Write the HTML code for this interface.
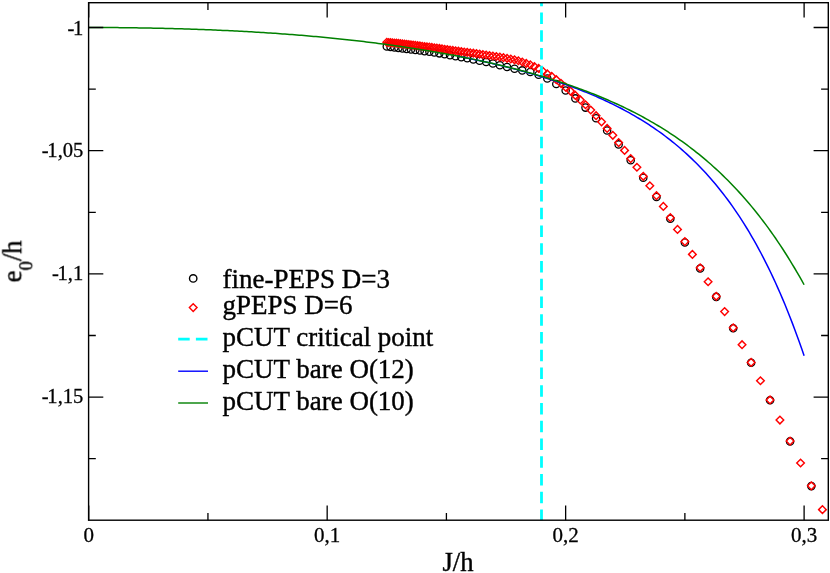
<!DOCTYPE html>
<html><head><meta charset="utf-8"><title>e0/h vs J/h</title>
<style>html,body{margin:0;padding:0;background:#fff;}body{width:830px;height:573px;overflow:hidden;font-family:"Liberation Serif",serif;}</style></head>
<body>
<svg width="830" height="573" viewBox="0 0 830 573" style="display:block">
<rect width="830" height="573" fill="#fff"/>
<defs><clipPath id="c"><rect x="88.6" y="2.7" width="739.7" height="517.5"/></clipPath></defs>
<g fill="none" stroke="#000" stroke-width="1.3" clip-path="url(#c)"><circle cx="386.79" cy="46.40" r="3.65"/><circle cx="390.56" cy="46.90" r="3.65"/><circle cx="394.43" cy="47.42" r="3.65"/><circle cx="398.40" cy="47.94" r="3.65"/><circle cx="402.48" cy="48.46" r="3.65"/><circle cx="406.66" cy="49.00" r="3.65"/><circle cx="410.96" cy="49.52" r="3.65"/><circle cx="415.37" cy="50.04" r="3.65"/><circle cx="419.91" cy="50.57" r="3.65"/><circle cx="424.57" cy="51.15" r="3.65"/><circle cx="429.37" cy="51.80" r="3.65"/><circle cx="434.31" cy="52.53" r="3.65"/><circle cx="439.39" cy="53.34" r="3.65"/><circle cx="444.63" cy="54.21" r="3.65"/><circle cx="450.02" cy="55.14" r="3.65"/><circle cx="455.58" cy="56.14" r="3.65"/><circle cx="461.31" cy="57.20" r="3.65"/><circle cx="467.22" cy="58.31" r="3.65"/><circle cx="473.33" cy="59.49" r="3.65"/><circle cx="479.63" cy="60.72" r="3.65"/><circle cx="486.15" cy="62.00" r="3.65"/><circle cx="492.89" cy="63.50" r="3.65"/><circle cx="499.86" cy="65.20" r="3.65"/><circle cx="507.07" cy="67.00" r="3.65"/><circle cx="514.54" cy="68.80" r="3.65"/><circle cx="522.28" cy="70.40" r="3.65"/><circle cx="530.31" cy="72.00" r="3.65"/><circle cx="538.64" cy="74.80" r="3.65"/><circle cx="547.30" cy="78.50" r="3.65"/><circle cx="556.29" cy="84.00" r="3.65"/><circle cx="565.64" cy="90.50" r="3.65"/><circle cx="575.37" cy="98.40" r="3.65"/><circle cx="585.51" cy="107.60" r="3.65"/><circle cx="596.08" cy="118.20" r="3.65"/><circle cx="607.11" cy="130.50" r="3.65"/><circle cx="618.63" cy="144.40" r="3.65"/><circle cx="630.68" cy="160.20" r="3.65"/><circle cx="643.28" cy="177.80" r="3.65"/><circle cx="656.49" cy="197.00" r="3.65"/><circle cx="670.33" cy="218.70" r="3.65"/><circle cx="684.88" cy="242.50" r="3.65"/><circle cx="700.16" cy="268.50" r="3.65"/><circle cx="716.25" cy="296.90" r="3.65"/><circle cx="733.21" cy="328.20" r="3.65"/><circle cx="751.12" cy="362.80" r="3.65"/><circle cx="770.04" cy="400.30" r="3.65"/><circle cx="790.08" cy="441.40" r="3.65"/><circle cx="811.34" cy="486.10" r="3.65"/></g>
<g fill="none" stroke="#f00" stroke-width="1.45" clip-path="url(#c)"><path d="M382.99,42.30 l3.80,-3.80 l3.80,3.80 l-3.80,3.80 z"/><path d="M384.86,42.46 l3.80,-3.80 l3.80,3.80 l-3.80,3.80 z"/><path d="M386.76,42.63 l3.80,-3.80 l3.80,3.80 l-3.80,3.80 z"/><path d="M388.68,42.81 l3.80,-3.80 l3.80,3.80 l-3.80,3.80 z"/><path d="M390.63,43.00 l3.80,-3.80 l3.80,3.80 l-3.80,3.80 z"/><path d="M392.60,43.20 l3.80,-3.80 l3.80,3.80 l-3.80,3.80 z"/><path d="M394.60,43.41 l3.80,-3.80 l3.80,3.80 l-3.80,3.80 z"/><path d="M396.63,43.63 l3.80,-3.80 l3.80,3.80 l-3.80,3.80 z"/><path d="M398.68,43.86 l3.80,-3.80 l3.80,3.80 l-3.80,3.80 z"/><path d="M400.75,44.09 l3.80,-3.80 l3.80,3.80 l-3.80,3.80 z"/><path d="M402.86,44.34 l3.80,-3.80 l3.80,3.80 l-3.80,3.80 z"/><path d="M404.99,44.59 l3.80,-3.80 l3.80,3.80 l-3.80,3.80 z"/><path d="M407.16,44.85 l3.80,-3.80 l3.80,3.80 l-3.80,3.80 z"/><path d="M409.35,45.11 l3.80,-3.80 l3.80,3.80 l-3.80,3.80 z"/><path d="M411.57,45.38 l3.80,-3.80 l3.80,3.80 l-3.80,3.80 z"/><path d="M413.82,45.66 l3.80,-3.80 l3.80,3.80 l-3.80,3.80 z"/><path d="M416.11,45.94 l3.80,-3.80 l3.80,3.80 l-3.80,3.80 z"/><path d="M418.42,46.22 l3.80,-3.80 l3.80,3.80 l-3.80,3.80 z"/><path d="M420.77,46.51 l3.80,-3.80 l3.80,3.80 l-3.80,3.80 z"/><path d="M423.16,46.80 l3.80,-3.80 l3.80,3.80 l-3.80,3.80 z"/><path d="M425.57,47.10 l3.80,-3.80 l3.80,3.80 l-3.80,3.80 z"/><path d="M428.02,47.41 l3.80,-3.80 l3.80,3.80 l-3.80,3.80 z"/><path d="M430.51,47.74 l3.80,-3.80 l3.80,3.80 l-3.80,3.80 z"/><path d="M433.03,48.09 l3.80,-3.80 l3.80,3.80 l-3.80,3.80 z"/><path d="M435.59,48.45 l3.80,-3.80 l3.80,3.80 l-3.80,3.80 z"/><path d="M438.19,48.83 l3.80,-3.80 l3.80,3.80 l-3.80,3.80 z"/><path d="M440.83,49.22 l3.80,-3.80 l3.80,3.80 l-3.80,3.80 z"/><path d="M443.50,49.61 l3.80,-3.80 l3.80,3.80 l-3.80,3.80 z"/><path d="M446.22,50.01 l3.80,-3.80 l3.80,3.80 l-3.80,3.80 z"/><path d="M448.98,50.40 l3.80,-3.80 l3.80,3.80 l-3.80,3.80 z"/><path d="M451.78,50.80 l3.80,-3.80 l3.80,3.80 l-3.80,3.80 z"/><path d="M454.62,51.19 l3.80,-3.80 l3.80,3.80 l-3.80,3.80 z"/><path d="M457.51,51.58 l3.80,-3.80 l3.80,3.80 l-3.80,3.80 z"/><path d="M460.44,51.97 l3.80,-3.80 l3.80,3.80 l-3.80,3.80 z"/><path d="M463.42,52.37 l3.80,-3.80 l3.80,3.80 l-3.80,3.80 z"/><path d="M466.45,52.77 l3.80,-3.80 l3.80,3.80 l-3.80,3.80 z"/><path d="M469.53,53.18 l3.80,-3.80 l3.80,3.80 l-3.80,3.80 z"/><path d="M472.66,53.61 l3.80,-3.80 l3.80,3.80 l-3.80,3.80 z"/><path d="M475.83,54.05 l3.80,-3.80 l3.80,3.80 l-3.80,3.80 z"/><path d="M479.07,54.51 l3.80,-3.80 l3.80,3.80 l-3.80,3.80 z"/><path d="M482.35,55.00 l3.80,-3.80 l3.80,3.80 l-3.80,3.80 z"/><path d="M485.69,55.50 l3.80,-3.80 l3.80,3.80 l-3.80,3.80 z"/><path d="M489.09,56.00 l3.80,-3.80 l3.80,3.80 l-3.80,3.80 z"/><path d="M492.54,56.52 l3.80,-3.80 l3.80,3.80 l-3.80,3.80 z"/><path d="M496.06,57.07 l3.80,-3.80 l3.80,3.80 l-3.80,3.80 z"/><path d="M499.63,57.66 l3.80,-3.80 l3.80,3.80 l-3.80,3.80 z"/><path d="M503.27,58.31 l3.80,-3.80 l3.80,3.80 l-3.80,3.80 z"/><path d="M506.97,59.02 l3.80,-3.80 l3.80,3.80 l-3.80,3.80 z"/><path d="M510.74,59.80 l3.80,-3.80 l3.80,3.80 l-3.80,3.80 z"/><path d="M514.58,60.79 l3.80,-3.80 l3.80,3.80 l-3.80,3.80 z"/><path d="M518.48,62.00 l3.80,-3.80 l3.80,3.80 l-3.80,3.80 z"/><path d="M522.46,63.40 l3.80,-3.80 l3.80,3.80 l-3.80,3.80 z"/><path d="M526.51,64.75 l3.80,-3.80 l3.80,3.80 l-3.80,3.80 z"/><path d="M530.64,66.50 l3.80,-3.80 l3.80,3.80 l-3.80,3.80 z"/><path d="M534.84,68.45 l3.80,-3.80 l3.80,3.80 l-3.80,3.80 z"/><path d="M539.13,71.30 l3.80,-3.80 l3.80,3.80 l-3.80,3.80 z"/><path d="M543.50,73.90 l3.80,-3.80 l3.80,3.80 l-3.80,3.80 z"/><path d="M547.95,76.40 l3.80,-3.80 l3.80,3.80 l-3.80,3.80 z"/><path d="M552.49,79.70 l3.80,-3.80 l3.80,3.80 l-3.80,3.80 z"/><path d="M557.12,83.30 l3.80,-3.80 l3.80,3.80 l-3.80,3.80 z"/><path d="M561.84,87.20 l3.80,-3.80 l3.80,3.80 l-3.80,3.80 z"/><path d="M566.66,91.12 l3.80,-3.80 l3.80,3.80 l-3.80,3.80 z"/><path d="M571.57,95.38 l3.80,-3.80 l3.80,3.80 l-3.80,3.80 z"/><path d="M576.59,99.94 l3.80,-3.80 l3.80,3.80 l-3.80,3.80 z"/><path d="M581.71,104.79 l3.80,-3.80 l3.80,3.80 l-3.80,3.80 z"/><path d="M586.94,110.00 l3.80,-3.80 l3.80,3.80 l-3.80,3.80 z"/><path d="M592.28,115.68 l3.80,-3.80 l3.80,3.80 l-3.80,3.80 z"/><path d="M597.74,121.84 l3.80,-3.80 l3.80,3.80 l-3.80,3.80 z"/><path d="M603.31,128.42 l3.80,-3.80 l3.80,3.80 l-3.80,3.80 z"/><path d="M609.01,135.33 l3.80,-3.80 l3.80,3.80 l-3.80,3.80 z"/><path d="M614.83,142.62 l3.80,-3.80 l3.80,3.80 l-3.80,3.80 z"/><path d="M620.79,150.38 l3.80,-3.80 l3.80,3.80 l-3.80,3.80 z"/><path d="M626.88,158.60 l3.80,-3.80 l3.80,3.80 l-3.80,3.80 z"/><path d="M633.11,167.26 l3.80,-3.80 l3.80,3.80 l-3.80,3.80 z"/><path d="M639.48,176.30 l3.80,-3.80 l3.80,3.80 l-3.80,3.80 z"/><path d="M646.01,185.73 l3.80,-3.80 l3.80,3.80 l-3.80,3.80 z"/><path d="M652.69,195.70 l3.80,-3.80 l3.80,3.80 l-3.80,3.80 z"/><path d="M659.53,206.41 l3.80,-3.80 l3.80,3.80 l-3.80,3.80 z"/><path d="M666.53,217.70 l3.80,-3.80 l3.80,3.80 l-3.80,3.80 z"/><path d="M673.71,229.40 l3.80,-3.80 l3.80,3.80 l-3.80,3.80 z"/><path d="M681.08,241.60 l3.80,-3.80 l3.80,3.80 l-3.80,3.80 z"/><path d="M688.62,254.38 l3.80,-3.80 l3.80,3.80 l-3.80,3.80 z"/><path d="M696.36,267.75 l3.80,-3.80 l3.80,3.80 l-3.80,3.80 z"/><path d="M704.30,281.71 l3.80,-3.80 l3.80,3.80 l-3.80,3.80 z"/><path d="M712.45,296.30 l3.80,-3.80 l3.80,3.80 l-3.80,3.80 z"/><path d="M720.82,311.60 l3.80,-3.80 l3.80,3.80 l-3.80,3.80 z"/><path d="M729.41,327.71 l3.80,-3.80 l3.80,3.80 l-3.80,3.80 z"/><path d="M738.24,344.68 l3.80,-3.80 l3.80,3.80 l-3.80,3.80 z"/><path d="M747.32,362.40 l3.80,-3.80 l3.80,3.80 l-3.80,3.80 z"/><path d="M756.65,380.78 l3.80,-3.80 l3.80,3.80 l-3.80,3.80 z"/><path d="M766.24,399.95 l3.80,-3.80 l3.80,3.80 l-3.80,3.80 z"/><path d="M776.12,420.06 l3.80,-3.80 l3.80,3.80 l-3.80,3.80 z"/><path d="M786.28,441.10 l3.80,-3.80 l3.80,3.80 l-3.80,3.80 z"/><path d="M796.75,463.02 l3.80,-3.80 l3.80,3.80 l-3.80,3.80 z"/><path d="M807.54,485.85 l3.80,-3.80 l3.80,3.80 l-3.80,3.80 z"/><path d="M818.65,509.63 l3.80,-3.80 l3.80,3.80 l-3.80,3.80 z"/></g>
<path d="M541.50,509.40 V520.20 M541.50,491.65 V503.35 M541.50,473.90 V485.60 M541.50,456.15 V467.85 M541.50,438.40 V450.10 M541.50,420.65 V432.35 M541.50,402.90 V414.60 M541.50,385.15 V396.85 M541.50,367.40 V379.10 M541.50,349.65 V361.35 M541.50,331.90 V343.60 M541.50,314.15 V325.85 M541.50,296.40 V308.10 M541.50,278.65 V290.35 M541.50,260.90 V272.60 M541.50,243.15 V254.85 M541.50,225.40 V237.10 M541.50,207.65 V219.35 M541.50,189.90 V201.60 M541.50,172.15 V183.85 M541.50,154.40 V166.10 M541.50,136.65 V148.35 M541.50,118.90 V130.60 M541.50,101.15 V112.85 M541.50,83.40 V95.10 M541.50,65.65 V77.35 M541.50,47.90 V59.60 M541.50,30.15 V41.85 M541.50,12.40 V24.10 M541.50,2.70 V6.35" stroke="#00ffff" stroke-width="2.8" fill="none"/>
<path d="M457.17,56.03 L459.56,56.50 L461.96,56.98 L464.35,57.45 L466.74,57.94 L469.14,58.43 L471.53,58.93 L473.92,59.43 L476.31,59.94 L478.71,60.45 L481.10,60.97 L483.49,61.50 L485.88,62.04 L488.28,62.58 L490.67,63.13 L493.06,63.68 L495.45,64.24 L497.85,64.81 L500.24,65.39 L502.63,65.97 L505.03,66.56 L507.42,67.16 L509.81,67.77 L512.20,68.38 L514.60,69.01 L516.99,69.64 L519.38,70.28 L521.77,70.92 L524.17,71.58 L526.56,72.25 L528.95,72.92 L531.34,73.61 L533.74,74.30 L536.13,75.00 L538.52,75.71 L540.92,76.44 L543.31,77.17 L545.70,77.91 L548.09,78.67 L550.49,79.43 L552.88,80.21 L555.27,81.00 L557.66,81.80 L560.06,82.61 L562.45,83.43 L564.84,84.27 L567.24,85.12 L569.63,85.98 L572.02,86.86 L574.41,87.75 L576.81,88.65 L579.20,89.57 L581.59,90.50 L583.98,91.45 L586.38,92.41 L588.77,93.39 L591.16,94.39 L593.55,95.40 L595.95,96.43 L598.34,97.48 L600.73,98.55 L603.13,99.63 L605.52,100.73 L607.91,101.86 L610.30,103.00 L612.70,104.16 L615.09,105.35 L617.48,106.55 L619.87,107.78 L622.27,109.03 L624.66,110.31 L627.05,111.61 L629.44,112.93 L631.84,114.28 L634.23,115.66 L636.62,117.06 L639.02,118.49 L641.41,119.94 L643.80,121.43 L646.19,122.95 L648.59,124.49 L650.98,126.07 L653.37,127.68 L655.76,129.32 L658.16,131.00 L660.55,132.71 L662.94,134.46 L665.33,136.24 L667.73,138.07 L670.12,139.93 L672.51,141.83 L674.91,143.77 L677.30,145.76 L679.69,147.78 L682.08,149.86 L684.48,151.97 L686.87,154.14 L689.26,156.35 L691.65,158.62 L694.05,160.93 L696.44,163.30 L698.83,165.72 L701.22,168.19 L703.62,170.72 L706.01,173.32 L708.40,175.97 L710.80,178.68 L713.19,181.45 L715.58,184.29 L717.97,187.20 L720.37,190.18 L722.76,193.22 L725.15,196.34 L727.54,199.53 L729.94,202.80 L732.33,206.15 L734.72,209.58 L737.12,213.09 L739.51,216.68 L741.90,220.37 L744.29,224.14 L746.69,228.00 L749.08,231.96 L751.47,236.02 L753.86,240.17 L756.26,244.43 L758.65,248.79 L761.04,253.26 L763.43,257.85 L765.83,262.54 L768.22,267.35 L770.61,272.28 L773.01,277.34 L775.40,282.52 L777.79,287.83 L780.18,293.27 L782.58,298.85 L784.97,304.57 L787.36,310.44 L789.75,316.45 L792.15,322.61 L794.54,328.93 L796.93,335.41 L799.32,342.05 L801.72,348.86 L804.11,355.84" stroke="#0000ff" stroke-width="1.5" fill="none"/>
<path d="M88.70,27.50 L91.09,27.50 L93.49,27.50 L95.88,27.51 L98.27,27.51 L100.66,27.52 L103.06,27.53 L105.45,27.54 L107.84,27.56 L110.23,27.57 L112.63,27.59 L115.02,27.60 L117.41,27.62 L119.80,27.65 L122.20,27.67 L124.59,27.70 L126.98,27.72 L129.38,27.75 L131.77,27.78 L134.16,27.81 L136.55,27.85 L138.95,27.88 L141.34,27.92 L143.73,27.96 L146.12,28.00 L148.52,28.05 L150.91,28.09 L153.30,28.14 L155.69,28.19 L158.09,28.24 L160.48,28.29 L162.87,28.35 L165.27,28.40 L167.66,28.46 L170.05,28.52 L172.44,28.59 L174.84,28.65 L177.23,28.72 L179.62,28.79 L182.01,28.86 L184.41,28.93 L186.80,29.00 L189.19,29.08 L191.59,29.16 L193.98,29.24 L196.37,29.32 L198.76,29.41 L201.16,29.49 L203.55,29.58 L205.94,29.68 L208.33,29.77 L210.73,29.87 L213.12,29.96 L215.51,30.06 L217.90,30.17 L220.30,30.27 L222.69,30.38 L225.08,30.49 L227.48,30.60 L229.87,30.72 L232.26,30.83 L234.65,30.95 L237.05,31.07 L239.44,31.20 L241.83,31.33 L244.22,31.45 L246.62,31.59 L249.01,31.72 L251.40,31.86 L253.79,32.00 L256.19,32.14 L258.58,32.28 L260.97,32.43 L263.37,32.58 L265.76,32.73 L268.15,32.89 L270.54,33.05 L272.94,33.21 L275.33,33.37 L277.72,33.54 L280.11,33.71 L282.51,33.88 L284.90,34.06 L287.29,34.23 L289.68,34.41 L292.08,34.60 L294.47,34.78 L296.86,34.97 L299.26,35.17 L301.65,35.36 L304.04,35.56 L306.43,35.76 L308.83,35.97 L311.22,36.18 L313.61,36.39 L316.00,36.60 L318.40,36.82 L320.79,37.04 L323.18,37.27 L325.57,37.50 L327.97,37.73 L330.36,37.96 L332.75,38.20 L335.15,38.44 L337.54,38.69 L339.93,38.93 L342.32,39.19 L344.72,39.44 L347.11,39.70 L349.50,39.96 L351.89,40.23 L354.29,40.50 L356.68,40.77 L359.07,41.05 L361.47,41.33 L363.86,41.61 L366.25,41.90 L368.64,42.19 L371.04,42.49 L373.43,42.79 L375.82,43.09 L378.21,43.40 L380.61,43.71 L383.00,44.03 L385.39,44.35 L387.78,44.67 L390.18,45.00 L392.57,45.33 L394.96,45.67 L397.36,46.01 L399.75,46.35 L402.14,46.70 L404.53,47.05 L406.93,47.41 L409.32,47.77 L411.71,48.14 L414.10,48.51 L416.50,48.88 L418.89,49.26 L421.28,49.65 L423.67,50.04 L426.07,50.43 L428.46,50.83 L430.85,51.23 L433.25,51.64 L435.64,52.05 L438.03,52.47 L440.42,52.89 L442.82,53.32 L445.21,53.75 L447.60,54.19 L449.99,54.64 L452.39,55.08 L454.78,55.54 L457.17,56.00 L459.56,56.46 L461.96,56.93 L464.35,57.41 L466.74,57.89 L469.14,58.38 L471.53,58.87 L473.92,59.37 L476.31,59.87 L478.71,60.38 L481.10,60.90 L483.49,61.42 L485.88,61.95 L488.28,62.48 L490.67,63.03 L493.06,63.57 L495.45,64.13 L497.85,64.69 L500.24,65.26 L502.63,65.83 L505.03,66.41 L507.42,67.00 L509.81,67.60 L512.20,68.20 L514.60,68.81 L516.99,69.43 L519.38,70.06 L521.77,70.69 L524.17,71.33 L526.56,71.98 L528.95,72.64 L531.34,73.31 L533.74,73.98 L536.13,74.66 L538.52,75.36 L540.92,76.06 L543.31,76.77 L545.70,77.48 L548.09,78.21 L550.49,78.95 L552.88,79.70 L555.27,80.45 L557.66,81.22 L560.06,82.00 L562.45,82.79 L564.84,83.58 L567.24,84.39 L569.63,85.21 L572.02,86.05 L574.41,86.89 L576.81,87.74 L579.20,88.61 L581.59,89.49 L583.98,90.38 L586.38,91.28 L588.77,92.20 L591.16,93.13 L593.55,94.07 L595.95,95.03 L598.34,96.00 L600.73,96.98 L603.13,97.98 L605.52,99.00 L607.91,100.03 L610.30,101.07 L612.70,102.13 L615.09,103.21 L617.48,104.30 L619.87,105.41 L622.27,106.54 L624.66,107.68 L627.05,108.85 L629.44,110.03 L631.84,111.22 L634.23,112.44 L636.62,113.68 L639.02,114.94 L641.41,116.21 L643.80,117.51 L646.19,118.83 L648.59,120.17 L650.98,121.53 L653.37,122.92 L655.76,124.33 L658.16,125.76 L660.55,127.21 L662.94,128.69 L665.33,130.20 L667.73,131.73 L670.12,133.29 L672.51,134.87 L674.91,136.48 L677.30,138.12 L679.69,139.78 L682.08,141.48 L684.48,143.20 L686.87,144.96 L689.26,146.74 L691.65,148.56 L694.05,150.41 L696.44,152.29 L698.83,154.20 L701.22,156.15 L703.62,158.14 L706.01,160.16 L708.40,162.21 L710.80,164.31 L713.19,166.44 L715.58,168.61 L717.97,170.82 L720.37,173.07 L722.76,175.36 L725.15,177.69 L727.54,180.07 L729.94,182.49 L732.33,184.95 L734.72,187.46 L737.12,190.02 L739.51,192.62 L741.90,195.27 L744.29,197.97 L746.69,200.72 L749.08,203.53 L751.47,206.38 L753.86,209.29 L756.26,212.25 L758.65,215.27 L761.04,218.35 L763.43,221.48 L765.83,224.67 L768.22,227.92 L770.61,231.24 L773.01,234.61 L775.40,238.05 L777.79,241.56 L780.18,245.13 L782.58,248.76 L784.97,252.47 L787.36,256.25 L789.75,260.10 L792.15,264.02 L794.54,268.01 L796.93,272.08 L799.32,276.23 L801.72,280.46 L804.11,284.76" stroke="#008000" stroke-width="1.5" fill="none"/>
<path d="M88.70,520.20 v-14.70 M88.70,2.70 v14.70 M207.94,520.20 v-7.20 M207.94,2.70 v7.20 M327.17,520.20 v-14.70 M327.17,2.70 v14.70 M446.41,520.20 v-7.20 M446.41,2.70 v7.20 M565.64,520.20 v-14.70 M565.64,2.70 v14.70 M684.88,520.20 v-7.20 M684.88,2.70 v7.20 M804.11,520.20 v-14.70 M804.11,2.70 v14.70 M88.60,27.50 h14.70 M828.30,27.50 h-14.70 M88.60,89.10 h7.20 M828.30,89.10 h-7.20 M88.60,150.70 h14.70 M828.30,150.70 h-14.70 M88.60,212.30 h7.20 M828.30,212.30 h-7.20 M88.60,273.90 h14.70 M828.30,273.90 h-14.70 M88.60,335.50 h7.20 M828.30,335.50 h-7.20 M88.60,397.10 h14.70 M828.30,397.10 h-14.70 M88.60,458.70 h7.20 M828.30,458.70 h-7.20" stroke="#000" stroke-width="1.3" fill="none"/>
<rect x="88.60" y="2.70" width="739.70" height="517.50" fill="none" stroke="#000" stroke-width="1.4"/>
<g font-family="'Liberation Serif', serif" fill="#000" opacity="0.999">
<text x="88.70" y="542.2" font-size="21" text-anchor="middle" stroke="#000" stroke-width="0.3">0</text>
<text x="327.17" y="542.2" font-size="21" text-anchor="middle" stroke="#000" stroke-width="0.3">0,1</text>
<text x="565.64" y="542.2" font-size="21" text-anchor="middle" stroke="#000" stroke-width="0.3">0,2</text>
<text x="804.11" y="542.2" font-size="21" text-anchor="middle" stroke="#000" stroke-width="0.3">0,3</text>
<text x="81.9" y="35.00" font-size="20.6" text-anchor="end" stroke="#000" stroke-width="0.3"><tspan dx="1.4">-</tspan><tspan dx="-1.4">1</tspan></text>
<text x="82.1" y="156.90" font-size="20.6" text-anchor="end" stroke="#000" stroke-width="0.3"><tspan dx="1.3">-</tspan><tspan dx="-1.3">1,05</tspan></text>
<text x="81.9" y="280.10" font-size="20.6" text-anchor="end" stroke="#000" stroke-width="0.3"><tspan dx="1.3">-</tspan><tspan dx="-1.3">1,1</tspan></text>
<text x="82.1" y="403.30" font-size="20.6" text-anchor="end" stroke="#000" stroke-width="0.3"><tspan dx="1.3">-</tspan><tspan dx="-1.3">1,15</tspan></text>
<text x="458" y="570.8" font-size="26.6" text-anchor="middle" stroke="#000" stroke-width="0.4">J/h</text>
<text transform="translate(21.3,261.4) rotate(-90)" font-size="26.8" text-anchor="middle" stroke="#000" stroke-width="0.4">e<tspan font-size="18.4" dy="10.8">0</tspan><tspan dy="-10.8">/h</tspan></text>
<text transform="translate(222.5,287.80) scale(1,1.022)" font-size="27" stroke="#000" stroke-width="0.4">fine-PEPS D=3</text>
<text transform="translate(222.5,314.00) scale(1,1.022)" font-size="27" stroke="#000" stroke-width="0.4">gPEPS D=6</text>
<text transform="translate(222.5,345.70) scale(1,1.022)" font-size="27" stroke="#000" stroke-width="0.4">pCUT critical point</text>
<text transform="translate(222.5,377.50) scale(1,1.022)" font-size="27" stroke="#000" stroke-width="0.4">pCUT bare O(12)</text>
<text transform="translate(222.5,409.50) scale(1,1.022)" font-size="27" stroke="#000" stroke-width="0.4">pCUT bare O(10)</text>
</g>
<circle cx="193.2" cy="278.4" r="3.7" fill="none" stroke="#000" stroke-width="1.4"/>
<path d="M189.40,307.60 l3.80,-3.80 l3.80,3.80 l-3.80,3.80 z" fill="none" stroke="#f00" stroke-width="1.45"/>
<path d="M178.2,339.2 H189.7 M195.9,339.2 H207.5" stroke="#00ffff" stroke-width="2.8" fill="none"/>
<path d="M178.2,371.2 H208" stroke="#0000ff" stroke-width="1.4" fill="none"/>
<path d="M178.2,403.0 H208" stroke="#008000" stroke-width="1.4" fill="none"/>
</svg>
</body></html>
